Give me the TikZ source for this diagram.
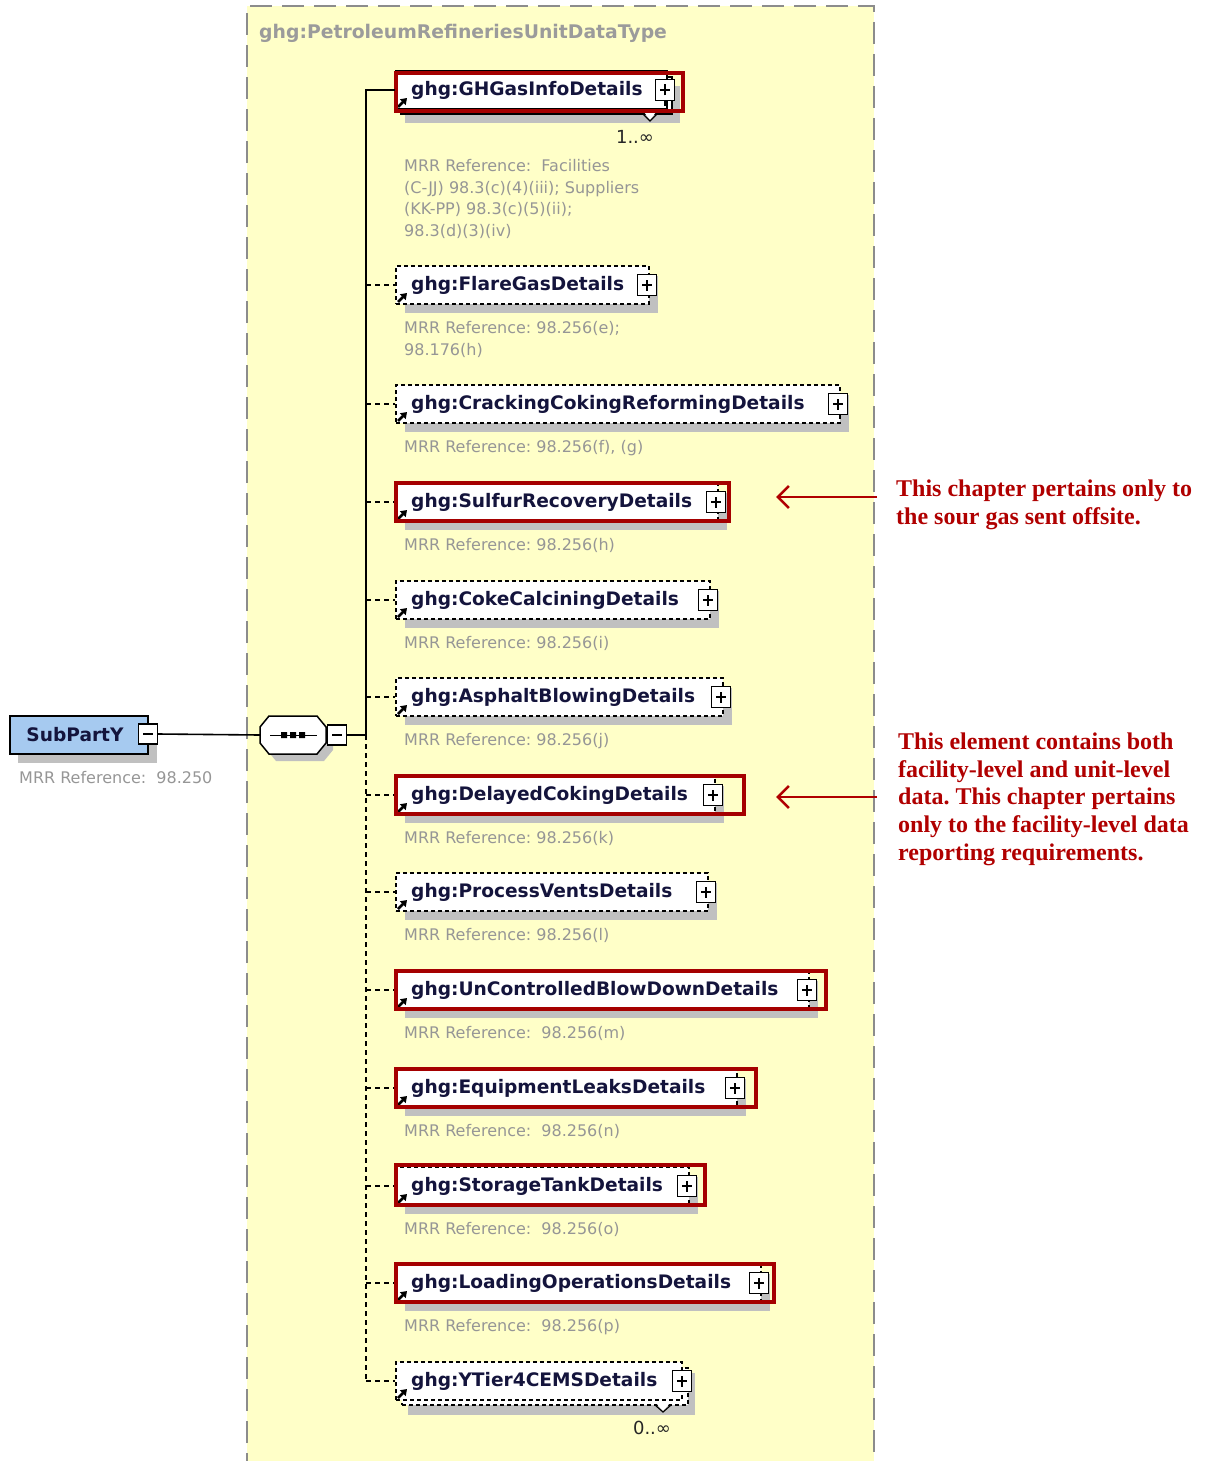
\documentclass[tikz,border=0pt]{standalone}
\usepackage{fontspec}
\setmainfont{DejaVu Sans}
\newfontfamily\notefont{Liberation Serif}
\usetikzlibrary{arrows.meta,fit}

\definecolor{bgyellow}{RGB}{255,255,200}
\definecolor{frameGray}{RGB}{140,140,140}
\definecolor{refGray}{RGB}{150,150,150}
\definecolor{titleGray}{RGB}{155,155,155}
\definecolor{labelInk}{RGB}{20,20,60}
\definecolor{hiRed}{RGB}{165,0,0}
\definecolor{noteRed}{RGB}{176,0,0}
\definecolor{shadowGray}{RGB}{192,192,192}
\definecolor{partBlue}{RGB}{166,202,240}

\newcommand\lblfont{\fontsize{18.6}{22}\selectfont\bfseries}
\newcommand\reffont{\fontsize{16}{21.5}\selectfont}
\newcommand\notesize{\notefont\bfseries\fontsize{24}{27.8}\selectfont}

\tikzset{
  wire/.style={line width=1.6pt, black},
  dwire/.style={line width=1.4pt, black, dash pattern=on 5pt off 4pt},
  sbox/.style={draw, fill=white, line width=1.2pt, inner sep=0pt},
  dbox/.style={draw, fill=white, line width=1.3pt, dash pattern=on 4pt off 3pt, inner sep=0pt},
  shade/.style={fill=shadowGray},
  lbl/.style={inner sep=0pt, text=labelInk, font=\lblfont},
  ref/.style={inner sep=0pt, text=refGray, font=\reffont, align=left, anchor=north west},
  mult/.style={inner sep=0pt, text=black!85, font=\fontsize{18}{20}\selectfont},
  icon/.style={line width=2.6pt, -{Triangle[length=6pt,width=8pt]}},
  pbox/.style={draw, fill=white, line width=1.2pt, minimum width=19pt, minimum height=21pt, inner sep=0pt,
    path picture={\draw[line width=1.3pt]
      ([xshift=-5pt]path picture bounding box.center) -- ([xshift=5pt]path picture bounding box.center)
      ([yshift=-5.5pt]path picture bounding box.center) -- ([yshift=5.5pt]path picture bounding box.center);}},
  mbox/.style={draw, fill=white, line width=1.2pt, minimum width=19pt, minimum height=20pt, inner sep=0pt,
    path picture={\draw[line width=1.3pt]
      ([xshift=-5pt]path picture bounding box.center) -- ([xshift=5pt]path picture bounding box.center);}},
  hilite/.style={draw=hiRed, line width=4.2pt},
  note/.style={inner sep=0pt, text=noteRed, font=\notesize, align=left, anchor=north west},
  pointer/.style={draw=noteRed, line width=2.6pt, -{Straight Barb[length=11pt,width=22pt]}},
}

\begin{document}
\frenchspacing
\begin{tikzpicture}[x=1pt, y=-1pt]
\useasboundingbox (0,0) rectangle (1208,1461);

% complex type container
\fill[bgyellow] (247,6) rectangle (874,1475);
\draw[frameGray, line width=2pt, dash pattern=on 22pt off 10pt] (247,1475) -- (247,6) -- (874,6) -- (874,1475);
\node[lbl, text=titleGray, font=\fontsize{18.8}{22}\selectfont\bfseries, anchor=west] (ttl) at (259,33) {ghg:PetroleumRefineriesUnitDataType};

% root element
\fill[shade] (18,724) rectangle (157,763);
\node[sbox, fill=partBlue, line width=1.5pt, fit={(10,716) (148,754)}] (sp) {};
\node[lbl] (sp-t) at (75,735) {SubPartY};
\node[mbox] (sp-m) at (148,734) {};
\node[ref, anchor=west] (sp-r) at (19,778) {MRR Reference:\ \ 98.250};

% sequence compositor (octagon outline)
\fill[shadowGray] (267,734) -- (276,723) -- (324,723) -- (333,734) -- (333,750) -- (324,761) -- (276,761) -- (267,750) -- cycle;
\filldraw[fill=white, line width=1.5pt] (260,727) -- (269,716) -- (317,716) -- (326,727) -- (326,743) -- (317,754) -- (269,754) -- (260,743) -- cycle;
\node[inner sep=0pt, minimum width=66pt, minimum height=38pt] (seq) at (293,735) {};
\draw[line width=1pt] (270,735) -- (317,735);
\fill (281,732) rectangle (287,738) (290,732) rectangle (296,738) (299,732) rectangle (305,738);
\node[mbox] (seq-m) at (337,735) {};
\draw[wire] (sp-m.east) -- (seq.west);

% branching trunk
\coordinate (hub) at (366,735);
\coordinate (j1) at (366,90);
\coordinate (j13) at (366,1381);
\draw[wire] (seq-m.east) -- (hub);

% first (mandatory, repeating) child
\fill[shade] (405,86) rectangle (680,123);
\node[sbox, fit={(401,77) (672,114)}] (e1-back) {};
\fill[white] (644,112) -- (650,120) -- (656,112) -- cycle;
\draw[line width=1.2pt] (643,114) -- (650,121) -- (657,114);
\node[sbox, fit={(396,71) (667,109)}] (e1) {};
\node[lbl, anchor=west] (e1-t) at (411,90) {ghg:GHGasInfoDetails};
\node[pbox] (e1-p) at (665,90) {};
\draw[line width=1.2pt] (e1-p.south) -- ++(0,5);
\draw[icon] (398,107) -- (407,98);
\draw[hilite] (396,73) rectangle (683,111);
\node[mult] (e1-m) at (635,137) {1..∞};
\node[ref] (e1-r) at (404,159.5) {MRR Reference:\ \ Facilities\\(C-JJ) 98.3(c)(4)(iii); Suppliers\\(KK-PP) 98.3(c)(5)(ii);\\98.3(d)(3)(iv)};
\draw[wire] (hub) -- (j1) -- (e1.west);

% optional children
\draw[dwire] (hub) -- (j13);
\foreach \n/\y/\xb/\r in {
  e2/285/649/{MRR Reference: 98.256(e);\\98.176(h)},
  e3/404/840/{MRR Reference: 98.256(f), (g)},
  e4/502/718/{MRR Reference: 98.256(h)},
  e5/600/710/{MRR Reference: 98.256(i)},
  e6/697/723/{MRR Reference: 98.256(j)},
  e7/795/715/{MRR Reference: 98.256(k)},
  e8/892/708/{MRR Reference: 98.256(l)},
  e9/990/809/{MRR Reference:\ \ 98.256(m)},
  e10/1088/737/{MRR Reference:\ \ 98.256(n)},
  e11/1186/689/{MRR Reference:\ \ 98.256(o)},
  e12/1283/761/{MRR Reference:\ \ 98.256(p)}}{
  \fill[shade] (405,\y-9) rectangle (\xb+9,\y+28);
  \node[dbox, fit={(396,\y-19) (\xb,\y+19)}] (\n) {};
  \node[pbox] (\n-p) at (\xb-2,\y) {};
  \draw[icon] (398,\y+17) -- (407,\y+8);
  \node[ref] (\n-r) at (404,\y+36.5) {\r};
  \coordinate (j\n) at (366,\y);
  \draw[dwire] (j\n) -- (\n.west);
}
\node[lbl, anchor=west] (e2-t) at (411,285) {ghg:FlareGasDetails};
\node[lbl, anchor=west] (e3-t) at (411,404) {ghg:CrackingCokingReformingDetails};
\node[lbl, anchor=west] (e4-t) at (411,502) {ghg:SulfurRecoveryDetails};
\node[lbl, anchor=west] (e5-t) at (411,600) {ghg:CokeCalciningDetails};
\node[lbl, anchor=west] (e6-t) at (411,697) {ghg:AsphaltBlowingDetails};
\node[lbl, anchor=west] (e7-t) at (411,795) {ghg:DelayedCokingDetails};
\node[lbl, anchor=west] (e8-t) at (411,892) {ghg:ProcessVentsDetails};
\node[lbl, anchor=west] (e9-t) at (411,990) {ghg:UnControlledBlowDownDetails};
\node[lbl, anchor=west] (e10-t) at (411,1088) {ghg:EquipmentLeaksDetails};
\node[lbl, anchor=west] (e11-t) at (411,1186) {ghg:StorageTankDetails};
\node[lbl, anchor=west] (e12-t) at (411,1283) {ghg:LoadingOperationsDetails};

% last (optional, repeating) child
\fill[shade] (408,1373) rectangle (695,1415);
\node[dbox, fit={(402,1368) (688,1405)}] (e13-back) {};
\fill[white] (656,1403) -- (663,1411) -- (670,1403) -- cycle;
\draw[line width=1.2pt] (655,1405) -- (663,1412) -- (671,1405);
\node[dbox, fit={(396,1362) (682,1400)}] (e13) {};
\node[lbl, anchor=west] (e13-t) at (411,1381) {ghg:YTier4CEMSDetails};
\node[pbox] (e13-p) at (682,1381) {};
\draw[icon] (398,1398) -- (407,1389);
\node[mult] (e13-m) at (652,1428) {0..∞};
\draw[dwire] (j13) -- (e13.west);

% highlighted children
\draw[hilite] (396,483) rectangle (729,521);
\draw[hilite] (396,776) rectangle (744,814);
\draw[hilite] (396,971) rectangle (826,1009);
\draw[hilite] (396,1069) rectangle (756,1107);
\draw[hilite] (396,1165) rectangle (705,1205);
\draw[hilite] (396,1264) rectangle (774,1302);

% annotations
\node[note] (n1) at (896,480) {This chapter pertains only to\\the sour gas sent offsite.};
\node[note] (n2) at (898,732.5) {This element contains both\\facility-level and unit-level\\data. This chapter pertains\\only to the facility-level data\\reporting requirements.};
\coordinate (n1-from) at (877,497);
\coordinate (n1-to) at (776,497);
\coordinate (n2-from) at (877,797);
\coordinate (n2-to) at (776,797);
\draw[pointer] (n1-from) -- (n1-to);
\draw[pointer] (n2-from) -- (n2-to);
\end{tikzpicture}
\end{document}
